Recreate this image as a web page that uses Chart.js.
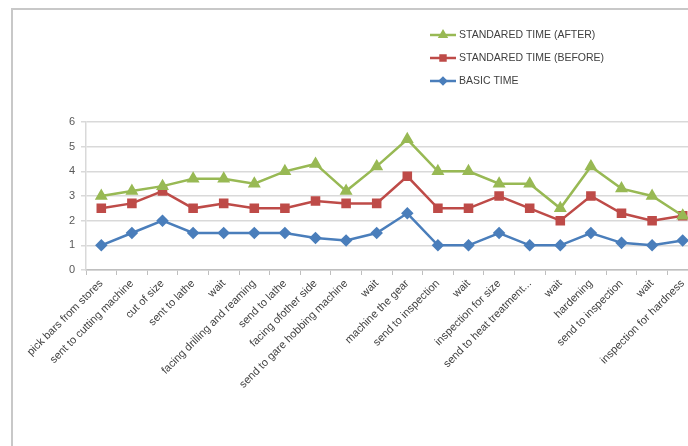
<!DOCTYPE html>
<html lang="en">
<head>
    <meta charset="UTF-8">
    <title>Standard time chart</title>
    <script src="https://cdn.jsdelivr.net/npm/chart.js"></script>
    <style>
        body {
            margin: 0;
            width: 688px;
            height: 446px;
            overflow: hidden;
            background: #fff;
            font-family: "Liberation Sans", Arial, sans-serif;
        }
        #frame {
            position: absolute;
            left: 11px;
            top: 8px;
            width: 720px;
            height: 460px;
            border-left: 2px solid #c8c8c8;
            border-top: 2px solid #c8c8c8;
        }
        #chartContainer {
            position: absolute;
            left: 0;
            top: 0;
            width: 720px;
            height: 446px;
        }
    </style>
</head>
<body>
    <div id="frame"></div>
    <div id="chartContainer">
        <canvas id="timeChart"></canvas>
    </div>

    <script>
        const steps = [
            'pick bars from stores', 'sent to cutting machine', 'cut of size', 'sent to lathe', 'wait',
            'facing drilling and reaming', 'send to lathe', 'facing ofother side', 'send to gare hobbing machine', 'wait',
            'machine the gear', 'send to inspection', 'wait', 'inspection for size', 'send to heat treatment...',
            'wait', 'hardening', 'send to inspection', 'wait', 'inspection for hardness'
        ];
        const standardAfter = [3, 3.2, 3.4, 3.7, 3.7, 3.5, 4, 4.3, 3.2, 4.2, 5.3, 4, 4, 3.5, 3.5, 2.5, 4.2, 3.3, 3, 2.2];
        const standardBefore = [2.5, 2.7, 3.2, 2.5, 2.7, 2.5, 2.5, 2.8, 2.7, 2.7, 3.8, 2.5, 2.5, 3, 2.5, 2, 3, 2.3, 2, 2.2];
        const basicTime = [1, 1.5, 2, 1.5, 1.5, 1.5, 1.5, 1.3, 1.2, 1.5, 2.3, 1, 1, 1.5, 1, 1, 1.5, 1.1, 1, 1.2];
        const yTicks = [0, 1, 2, 3, 4, 5, 6];

        // legend drawn as a vertical list at the top right, like the Excel one
        const sideLegend = {
            id: 'sideLegend',
            afterDraw(chart) {
                const ctx = chart.ctx;
                ctx.save();
                ctx.font = '10.5px "Liberation Sans", Arial, sans-serif';
                ctx.textBaseline = 'middle';
                chart.data.datasets.forEach((ds, i) => {
                    const y = 35 + i * 23;
                    ctx.strokeStyle = ds.borderColor;
                    ctx.lineWidth = 2.5;
                    ctx.beginPath();
                    ctx.moveTo(430, y);
                    ctx.lineTo(456, y);
                    ctx.stroke();
                    Chart.helpers.drawPoint(ctx, {
                        pointStyle: ds.pointStyle,
                        radius: ds.pointRadius - 1.5,
                        borderWidth: 1
                    }, 443, y);
                    ctx.fillStyle = ds.borderColor;
                    ctx.strokeStyle = ds.borderColor;
                    ctx.fill();
                    ctx.fillStyle = '#404040';
                    ctx.fillText(ds.label, 459, y);
                });
                ctx.restore();
            }
        };

        const ctx = document.getElementById('timeChart').getContext('2d');
        new Chart(ctx, {
            type: 'line',
            data: {
                labels: steps,
                datasets: [{
                    label: 'STANDARED TIME (AFTER)',
                    data: standardAfter,
                    borderColor: '#98b954',
                    backgroundColor: '#98b954',
                    borderWidth: 2.5,
                    pointStyle: 'triangle',
                    pointRadius: 5,
                    tension: 0
                }, {
                    label: 'STANDARED TIME (BEFORE)',
                    data: standardBefore,
                    borderColor: '#be4b48',
                    backgroundColor: '#be4b48',
                    borderWidth: 2.5,
                    pointStyle: 'rect',
                    pointRadius: 5,
                    tension: 0
                }, {
                    label: 'BASIC TIME',
                    data: basicTime,
                    borderColor: '#4a7ebb',
                    backgroundColor: '#4a7ebb',
                    borderWidth: 2.5,
                    pointStyle: 'rectRot',
                    pointRadius: 4.5,
                    tension: 0
                }]
            },
            options: {
                responsive: true,
                maintainAspectRatio: false,
                animation: false,
                layout: {
                    padding: { left: 0, right: 22, top: 122, bottom: 0 }
                },
                plugins: {
                    legend: { display: false },
                    tooltip: { enabled: false }
                },
                scales: {
                    x: {
                        offset: true,
                        grid: {
                            offset: true,
                            drawOnChartArea: false,
                            color: '#bfbfbf',
                            tickLength: 5
                        },
                        border: { color: '#bfbfbf', width: 1.5 },
                        ticks: {
                            autoSkip: false,
                            minRotation: 45,
                            maxRotation: 45,
                            color: '#404040',
                            font: { family: '"Liberation Sans", Arial, sans-serif', size: 11 },
                            padding: 2
                        },
                        afterFit(scale) { scale.height = 176; }
                    },
                    y: {
                        min: yTicks[0],
                        max: yTicks[yTicks.length - 1],
                        afterBuildTicks(scale) { scale.ticks = yTicks.map(v => ({ value: v })); },
                        grid: { color: '#d9d9d9', lineWidth: 1.5, tickLength: 5 },
                        border: { color: '#d9d9d9', width: 1.5 },
                        ticks: {
                            color: '#595959',
                            font: { family: '"Liberation Sans", Arial, sans-serif', size: 11 },
                            padding: 6
                        },
                        afterFit(scale) { scale.width = 86; }
                    }
                }
            },
            plugins: [sideLegend]
        });
    </script>
</body>
</html>
